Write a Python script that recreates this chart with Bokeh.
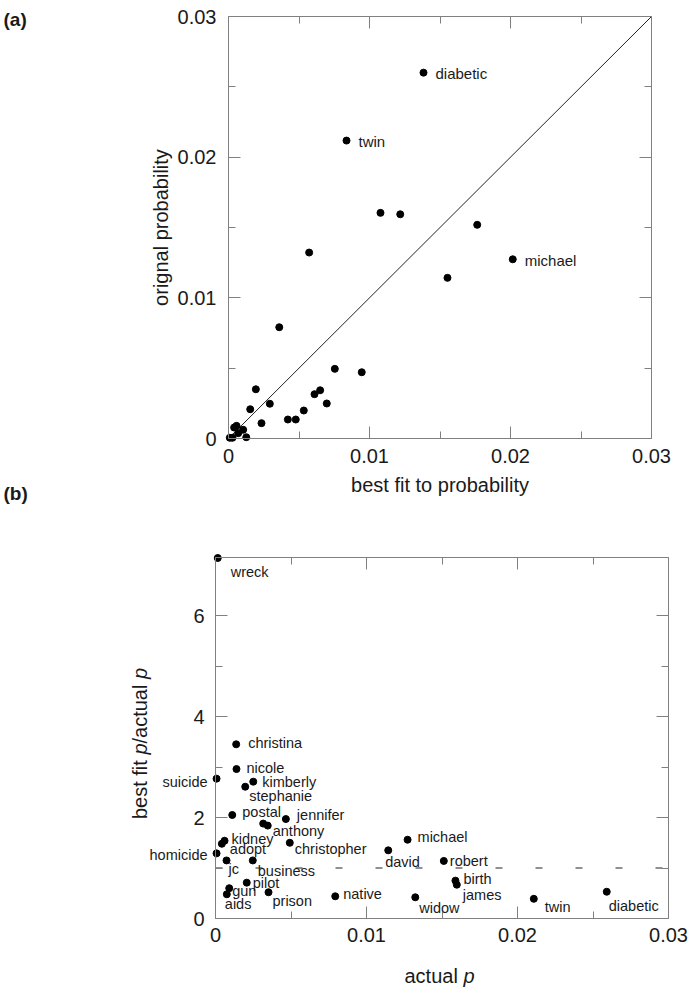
import math
from bokeh.plotting import figure
from bokeh.models import (ColumnDataSource, LabelSet, Label, LinearAxis, FixedTicker,
                          Range1d, BoxAnnotation, CustomJSTickFormatter)
from bokeh.layouts import column
from bokeh.embed import file_html
from bokeh.resources import INLINE
from bokeh.core.properties import value

# ---------------- data: panel (a) ----------------
a_names = ["diabetic", "twin", "", "", "", "michael", "", "", "", "", "", "", "", "",
           "", "", "", "", "", "", "", "", "", "", "", "", "", ""]
a_best_fit = [0.01383, 0.00837, 0.01078, 0.01218, 0.01764, 0.02016, 0.01553, 0.00572,
              0.00360, 0.00754, 0.00945, 0.00194, 0.00610, 0.00650, 0.00697, 0.00293,
              0.00154, 0.00534, 0.00421, 0.00477, 0.00234, 0.00040, 0.00057, 0.00069,
              0.00104, 0.00126, 0.00009, 0.00028]
a_original = [0.02601, 0.02118, 0.01604, 0.01594, 0.01519, 0.01274, 0.01142, 0.01322,
              0.00791, 0.00495, 0.00471, 0.00350, 0.00315, 0.00343, 0.00249, 0.00247,
              0.00208, 0.00199, 0.00135, 0.00135, 0.00109, 0.00078, 0.00090, 0.00038,
              0.00062, 0.00009, 0.00005, 0.00005]
a_ticks = [0, 0.01, 0.02, 0.03]
a_minor = [0.005, 0.015, 0.025]

# ---------------- data: panel (b) ----------------
b_names = ["wreck", "christina", "nicole", "suicide", "kimberly", "stephanie", "postal",
           "jennifer", "anthony", "", "kidney", "adopt", "christopher", "homicide", "jc",
           "business", "pilot", "gun", "aids", "prison", "native", "michael", "david",
           "robert", "birth", "james", "widow", "twin", "diabetic"]
b_actual = [0.00015, 0.00137, 0.00139, 0.00007, 0.00250, 0.00197, 0.00111, 0.00466,
            0.00346, 0.00316, 0.00060, 0.00042, 0.00492, 0.00007, 0.00073, 0.00247,
            0.00207, 0.00091, 0.00075, 0.00351, 0.00793, 0.01272, 0.01144, 0.01512,
            0.01589, 0.01598, 0.01323, 0.02108, 0.02591]
b_ratio = [7.14, 3.45, 2.96, 2.77, 2.71, 2.61, 2.05, 1.97, 1.84, 1.88, 1.54, 1.48, 1.50,
           1.29, 1.15, 1.15, 0.71, 0.60, 0.48, 0.52, 0.44, 1.56, 1.35, 1.14, 0.75, 0.67,
           0.42, 0.39, 0.53]
# label placement (pixels: right, down)
b_dx = [13, 12, 10, -9, 9, 4, 10, 11, 5, 0, 7, 8, 5, -9, 2, 5, 6, 3, -2, 4, 8, 10, -3,
        6, 8, 6, 4, 11, 2]
b_dy = [14, -1, -1, 3, 0, 9, -3, -4, 5, 0, -2, 5, 6, 2, 9, 11, 0, 3, 10, 9, -2, -3, 12,
        0, -2, 10, 11, 8, 14]
b_right = ["suicide", "homicide"]
b_xticks = [0, 0.01, 0.02, 0.03]
b_xminor = [0.005, 0.015, 0.025]
b_yticks = [0, 2, 4, 6]
b_yminor = [1, 3, 5]
b_ytop = 7.15
ref_level = 1

# ---------------- layout (pixels) ----------------
W = 689
HA, HB = 520, 467
A_L, A_R, A_T, A_B = 228, 651, 16, 438          # frame (a) in page px
B_L, B_R, B_T, B_B = 215, 668, 557 - HA, 918 - HA  # frame (b) in fig-b px

FONT = "Liberation Sans"
GREY = "#808080"
TXT = "#1a1a1a"

fmt = CustomJSTickFormatter(code="return tick == 0 ? '0' : tick.toFixed(2);")
blank = CustomJSTickFormatter(code="return '';")


def ranges(x0, x1, px_l, px_r, y0, y1, px_t, px_b, w, h):
    sx = (x1 - x0) / (px_r - px_l)
    sy = (y1 - y0) / (px_b - px_t)
    xr = Range1d(x0 - px_l * sx, x1 + (w - px_r) * sx)
    yr = Range1d(y0 - (h - px_b) * sy, y1 + px_t * sy)
    return xr, yr


def make_axis(loc, ticks, minor, fixed, bounds, show, formatter=None):
    ax = LinearAxis(ticker=FixedTicker(ticks=ticks, minor_ticks=minor),
                    fixed_location=fixed, bounds=bounds)
    ax.axis_line_color = GREY
    ax.major_tick_line_color = GREY
    ax.minor_tick_line_color = GREY
    ax.major_tick_in = 12
    ax.major_tick_out = 0
    ax.minor_tick_in = 7
    ax.minor_tick_out = 0
    ax.major_label_text_font = FONT
    ax.major_label_text_color = TXT
    ax.major_label_text_font_size = "20px"
    ax.axis_label_text_font = FONT
    ax.axis_label_text_font_style = "normal"
    ax.axis_label_text_color = TXT
    ax.axis_label_text_font_size = "20px"
    if show:
        if formatter is not None:
            ax.formatter = formatter
    else:
        ax.formatter = blank
    return ax


def base_fig(h, xr, yr):
    p = figure(width=W, height=h, x_range=xr, y_range=yr, output_backend="svg",
               toolbar_location=None, x_axis_location=None, y_axis_location=None,
               min_border=0, min_border_left=0, min_border_right=0,
               min_border_top=0, min_border_bottom=0)
    p.grid.visible = False
    p.outline_line_color = None
    p.background_fill_color = "white"
    p.border_fill_color = "white"
    return p


# ---------------- figure (a) ----------------
xr_a, yr_a = ranges(a_ticks[0], a_ticks[-1], A_L, A_R, a_ticks[0], a_ticks[-1], A_T, A_B, W, HA)
pa = base_fig(HA, xr_a, yr_a)
a_lo, a_hi = a_ticks[0], a_ticks[-1]
pa.add_layout(BoxAnnotation(left=a_lo, right=a_hi, bottom=a_lo, top=a_hi,
                            fill_color=None, line_color=GREY, line_width=1))

ax_b = make_axis("below", a_ticks, a_minor, a_lo, (a_lo, a_hi), True, fmt)
ax_b.major_label_standoff = 10
ax_b.axis_label = "best fit to probability"
ax_b.axis_label_standoff = 8
ax_l = make_axis("left", a_ticks, a_minor, a_lo, (a_lo, a_hi), True, fmt)
ax_l.major_label_standoff = 12
ax_l.axis_label = "orignal probability"
ax_l.axis_label_standoff = 3
pa.add_layout(ax_b, "below")
pa.add_layout(ax_l, "left")
pa.add_layout(make_axis("above", a_ticks, a_minor, a_hi, (a_lo, a_hi), False), "above")
pa.add_layout(make_axis("right", a_ticks, a_minor, a_hi, (a_lo, a_hi), False), "right")

pa.line(x=[a_lo, a_hi], y=[a_lo, a_hi], line_color="#222222", line_width=1)

src_a = ColumnDataSource(dict(x=a_best_fit, y=a_original))
pa.scatter("x", "y", source=src_a, size=7, color="black")
lab_a = [i for i, n in enumerate(a_names) if n]
src_al = ColumnDataSource(dict(x=[a_best_fit[i] for i in lab_a],
                               y=[a_original[i] for i in lab_a],
                               name=[a_names[i] for i in lab_a]))
pa.add_layout(LabelSet(x="x", y="y", text="name", source=src_al, x_offset=12, y_offset=-1,
                       text_font=value(FONT), text_font_size=value("15px"),
                       text_color=TXT, text_baseline="middle", text_align="left"))

pa.add_layout(Label(x=a_lo, y=a_hi, text="(a)", x_offset=3 - A_L, y_offset=-3,
                    text_font=FONT, text_font_size="19px", text_font_style="bold",
                    text_color=TXT, text_baseline="middle", text_align="left"))
pa.add_layout(Label(x=a_lo, y=a_lo, text="(b)", x_offset=3 - A_L, y_offset=A_B - 493,
                    text_font=FONT, text_font_size="19px", text_font_style="bold",
                    text_color=TXT, text_baseline="middle", text_align="left"))

# ---------------- figure (b) ----------------
bx0, bx1 = b_xticks[0], b_xticks[-1]
by0 = b_yticks[0]
xr_b, yr_b = ranges(bx0, bx1, B_L, B_R, by0, b_ytop, B_T, B_B, W, HB)
pb = base_fig(HB, xr_b, yr_b)
pb.add_layout(BoxAnnotation(left=bx0, right=bx1, bottom=by0, top=b_ytop,
                            fill_color=None, line_color=GREY, line_width=1))

bx_b = make_axis("below", b_xticks, b_xminor, by0, (bx0, bx1), True, fmt)
bx_b.major_label_standoff = 9
bx_l = make_axis("left", b_yticks, b_yminor, bx0, (by0, b_ytop), True)
bx_l.major_label_standoff = 11
pb.add_layout(bx_b, "below")
pb.add_layout(bx_l, "left")
pb.add_layout(make_axis("above", b_xticks, b_xminor, b_ytop, (bx0, bx1), False), "above")
pb.add_layout(make_axis("right", b_yticks, b_yminor, bx1, (by0, b_ytop), False), "right")

pb.line(x=[bx0, bx1], y=[ref_level, ref_level], line_color="#222222", line_width=1,
        line_dash="7 33")

src_b = ColumnDataSource(dict(x=b_actual, y=b_ratio))
pb.scatter("x", "y", source=src_b, size=7, color="black")


def sub(idx):
    return ColumnDataSource(dict(x=[b_actual[i] for i in idx], y=[b_ratio[i] for i in idx],
                                 name=[b_names[i] for i in idx],
                                 dx=[b_dx[i] for i in idx], dy=[-b_dy[i] for i in idx]))


left_idx = [i for i, n in enumerate(b_names) if n and n not in b_right]
right_idx = [i for i, n in enumerate(b_names) if n in b_right]
pb.add_layout(LabelSet(x="x", y="y", text="name", source=sub(left_idx), x_offset="dx",
                       y_offset="dy", text_font=value(FONT), text_font_size=value("14.5px"),
                       text_color=TXT, text_baseline="middle", text_align="left"))
pb.add_layout(LabelSet(x="x", y="y", text="name", source=sub(right_idx), x_offset="dx",
                       y_offset="dy", text_font=value(FONT), text_font_size=value("14.5px"),
                       text_color=TXT, text_baseline="middle", text_align="right"))


def piece(txt, xo, yo, italic=False, angle=0.0):
    return Label(x=bx0, y=by0, text=txt, x_offset=xo, y_offset=yo, angle=angle,
                 text_font=FONT, text_font_size="20px",
                 text_font_style="italic" if italic else "normal",
                 text_color=TXT, text_baseline="middle", text_align="left")


# x title: "actual p"
xt0 = 404 - B_L
pb.add_layout(piece("actual", xt0, -(975 - 918)))
pb.add_layout(piece("p", xt0 + 59, -(975 - 918), italic=True))
# y title: "best fit p/actual p" (rotated, reading upward); advance widths at 20px
w_bestfit_sp, w_p, w_actual_sp = 64.5, 11.1, 64.5
total = w_bestfit_sp + w_p + w_actual_sp + w_p
yt0 = (918 - 743) - total / 2
xo = 139 - B_L
pb.add_layout(piece("best fit", xo, yt0, angle=math.pi / 2))
pb.add_layout(piece("p", xo, yt0 + w_bestfit_sp, italic=True, angle=math.pi / 2))
pb.add_layout(piece("/actual", xo, yt0 + w_bestfit_sp + w_p, angle=math.pi / 2))
pb.add_layout(piece("p", xo, yt0 + w_bestfit_sp + w_p + w_actual_sp, italic=True,
                    angle=math.pi / 2))

layout = column(pa, pb)
open("out.html", "w").write(file_html(layout, INLINE))
